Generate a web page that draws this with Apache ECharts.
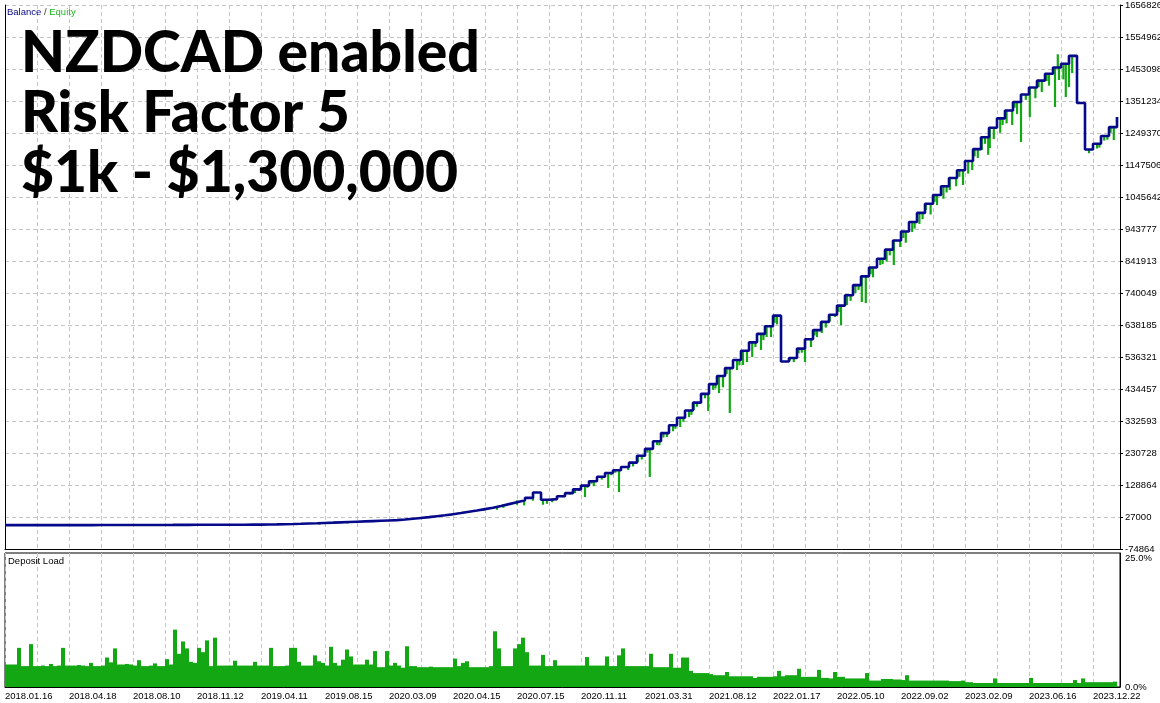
<!DOCTYPE html>
<html><head><meta charset="utf-8">
<script src="https://cdn.jsdelivr.net/npm/echarts@6/dist/echarts.min.js"></script>
<style>html,body{margin:0;padding:0;background:#fff}#c{width:1160px;height:703px}</style>
</head><body><div id="c"></div><script>
const xLabels = ['2018.01.16','2018.04.18','2018.08.10','2018.11.12','2019.04.11','2019.08.15','2020.03.09','2020.04.15','2020.07.15','2020.11.11','2021.03.31','2021.08.12','2022.01.17','2022.05.10','2022.09.02','2023.02.09','2023.06.16','2023.12.22'];
const yLabels = ['-74864','27000','128864','230728','332593','434457','536321','638185','740049','841913','943777','1045642','1147506','1249370','1351234','1453098','1554962','1656826'];
const loadLabels = ['0.0%','25.0%'];
const titleLines = ['NZDCAD enabled','Risk Factor 5','$1k - $1,300,000'];

// balance, one value per step of the trade index
const balance = [
1000,1000,1050,1050,1100,1100,1150,1150,1200,1250,
1250,1300,1350,1400,1450,1500,1550,1600,1700,1750,
1800,1900,2000,2100,2200,2250,2350,2400,2450,2500,
2600,2700,3000,3400,4000,4700,5500,6400,7200,8100,
9000,10000,11000,12000,13000,14000,15000,16000,17000,19000,
21500,24000,26500,29500,32500,36000,39500,43500,47500,52000,
56500,62000,68000,74000,80000,88000,105000,82000,84000,93000,
103000,115000,127000,141000,155000,167000,176000,186000,200000,222000,
244000,268000,294000,319000,343000,366000,391000,419000,450000,476000,
501000,527000,556000,583000,610000,634000,668000,522000,533000,563000,
593000,622000,648000,671000,700000,733000,765000,793000,821000,849000,
878000,907000,936000,966000,995000,1024000,1052000,1080000,1106000,1131000,
1160000,1198000,1236000,1266000,1296000,1321000,1348000,1372000,1394000,1416000,
1438000,1458000,1470000,1495000,1345000,1197000,1215000,1240000,1268000,1300000
];

// equity excursions away from balance: [trade index, equity value]
const equityDips = [
[39.3,2500],[42.8,6000],[44.4,9500],[46.3,11000],[48.0,13500],[49.2,16000],
[55.7,30000],[57.3,38000],[57.8,41000],[59.8,46000],[61.5,50000],[62.3,56000],
[64.0,66000],[64.9,64000],[66.0,79000],[67.25,66000],[67.75,69000],[68.4,74000],
[69.0,84000],[69.75,90000],[70.6,98000],[71.25,103000],[71.7,110000],
[72.5,90700],[72.8,120000],[73.3,133000],[73.6,125000],[74.6,146000],[75.4,119300],[75.8,160000],
[76.3,168000],[76.75,106600],[77.9,176600],[78.5,188000],[79.1,202000],[79.6,210000],
[80.3,232000],[80.6,154300],[81.5,256000],[81.8,255000],[82.3,280000],[82.75,281600],[83.5,300000],
[83.8,308000],[84.4,313500],[84.8,330000],[85.5,345000],[85.8,352000],
[86.1,367600],[86.5,378000],[86.9,389900],[87.5,405000],[87.9,364400],[88.5,432000],[88.8,436000],
[89.25,421700],[89.75,440000],[90.2,482000],[90.6,358000],
[91.5,495000],[91.8,510000],[92.25,510800],[92.75,520000],[93.4,536300],[93.8,568000],[94.5,558600],
[94.8,590000],[95.2,600000],[95.75,600000],[96.2,645000],[96.5,640000],[98.1,525000],[98.6,520000],
[99.2,548000],[99.6,550000],[100.0,520400],[100.75,568000],
[101.2,605000],[101.5,600000],[102.1,612700],[102.6,630000],[103.1,650000],[103.75,663600],[104.2,680000],
[104.5,638000],[105.25,701800],[105.7,715000],
[106.3,740000],[106.7,750000],[107.1,711400],[107.6,708000],[108.2,800000],[108.5,790000],[109.4,829000],
[109.7,832000],[110.2,840000],[110.6,860000],
[111.1,829000],[111.9,886400],[112.3,915000],[112.6,900000],[113.4,934000],[113.7,945000],[114.3,960000],
[114.7,975000],[115.1,1004000],
[115.7,990000],[116.2,1030000],[116.5,1020000],[117.3,1040000],[117.7,1060000],[118.1,1067800],
[118.9,1080000],[119.3,1110000],[119.75,1083800],
[120.4,1120000],[120.9,1131500],[121.2,1175000],[121.6,1170000],[122.1,1195000],[122.5,1215000],
[122.9,1180000],[123.1,1201600],
[123.6,1230000],[124.4,1250000],[124.7,1275000],[125.2,1280000],[125.9,1274700],[126.2,1330000],
[126.5,1310000],[127.0,1220600],[127.6,1355000],
[128.1,1300000],[128.8,1360000],[129.2,1395000],[129.6,1380000],[130.2,1415000],[130.5,1400000],
[131.25,1332000],[131.6,1500000],
[131.75,1418000],[132.3,1420000],[132.6,1364000],[133.0,1396000],[133.4,1440000],
[135.5,1185000],[136.5,1200000],[136.8,1203000],[137.4,1225000],[137.8,1228000],[138.2,1250000],
[138.6,1227000],[139.0,1285000]
];

// deposit load in %, two samples per trade-index step
const depositLoad = [
4.2,4.2,4.2,7.3,3.9,3.9,8.0,3.9,3.9,4.0,3.9,4.3,3.9,4.0,7.3,4.0,
4.0,4.0,4.1,4.0,3.9,4.5,3.9,3.9,4.0,5.5,4.6,7.2,4.2,4.2,4.3,4.2,
4.0,5.0,3.9,3.9,4.0,4.4,3.9,3.9,5.2,4.2,10.7,6.2,8.5,7.2,4.7,4.5,
7.3,6.5,8.7,3.9,9.2,4.0,4.0,4.0,4.0,4.9,4.0,4.0,4.0,4.0,4.7,4.0,
4.0,4.0,7.3,3.9,3.9,3.9,4.0,7.3,7.3,4.7,4.0,4.0,4.0,5.9,4.8,4.5,
4.0,7.5,4.5,4.0,5.1,7.0,5.7,4.2,4.2,4.2,5.1,4.2,6.7,3.7,3.7,6.7,
4.0,4.5,4.0,3.6,7.6,3.9,3.9,3.7,3.7,3.7,3.8,3.7,3.7,3.7,3.7,3.7,
5.3,3.9,4.5,4.8,3.7,3.7,3.7,3.7,3.7,3.9,10.4,7.2,3.9,3.9,3.9,7.2,
8.0,9.2,6.5,4.0,4.0,4.0,6.0,3.9,3.9,5.0,4.0,4.0,4.0,4.0,4.0,4.0,
4.0,5.6,4.0,4.0,4.0,4.0,5.7,3.9,3.9,5.9,7.2,3.9,3.9,3.9,3.9,3.9,
3.9,6.2,3.7,3.7,3.7,3.7,6.2,3.6,3.6,5.5,5.5,3.0,2.6,2.6,2.6,2.6,
2.4,2.2,2.2,2.2,2.8,2.0,2.0,2.0,2.0,2.0,2.0,1.7,1.9,1.9,1.9,1.9,
2.0,3.0,2.0,2.2,2.2,2.2,3.4,1.9,1.9,1.9,1.9,3.2,1.7,1.7,1.6,2.8,
1.9,1.9,1.6,1.6,1.6,1.6,1.6,2.6,1.2,1.2,1.2,1.5,1.5,1.5,1.4,1.4,
1.3,2.2,1.2,1.2,1.2,1.2,1.2,1.2,1.2,1.2,1.2,1.2,1.1,1.1,1.1,1.2,
0.9,0.9,0.75,0.75,0.75,0.75,0.75,1.6,0.75,0.75,0.75,0.75,0.75,0.75,0.75,0.75,
1.7,0.75,0.75,0.75,0.75,0.75,0.75,0.75,0.75,0.75,0.75,1.3,0.75,1.6,0.9,0.9,
0.9,0.9,0.9,0.9,0.9,1.0
];

const Y_MIN = -74864, Y_MAX = 1656826, Y_STEP = (Y_MAX - Y_MIN) / 17;
const X_MAX = 139.375;
const BLUE = '#06098a', GREEN = '#13a813', GRID = '#c4c4c4';
const FONT = 'Liberation Sans';

const chart = echarts.init(document.getElementById('c'), null, {renderer: 'canvas'});
const splitX = {show: true, lineStyle: {color: GRID, type: [4, 3], width: 1}};
chart.setOption({
  animation: false,
  backgroundColor: '#fff',
  textStyle: {fontFamily: FONT},
  title: [
    {text: titleLines.join('\n'), left: 16, top: 19,
     textStyle: {fontFamily: 'Lato', fontWeight: 900, fontSize: 57, lineHeight: 60, color: '#000'}},
    {text: '{b|Balance} / {e|Equity}', left: 7, top: 7, padding: 0,
     textStyle: {fontSize: 9.5, fontWeight: 'normal', color: '#333', fontFamily: FONT,
       rich: {b: {color: BLUE, fontSize: 9.5, fontFamily: FONT}, e: {color: '#22b522', fontSize: 9.5, fontFamily: FONT}}}},
    {text: 'Deposit Load', left: 8, top: 556, padding: 0,
     textStyle: {fontSize: 9.5, fontWeight: 'normal', color: '#000', fontFamily: FONT}}
  ],
  grid: [
    {left: 5, right: 40, top: 5, height: 544, show: false, outerBoundsMode: 'none', containLabel: false},
    {left: 5, right: 40, top: 553, height: 134, show: true, borderColor: '#000', borderWidth: 1,
     outerBoundsMode: 'none', containLabel: false}
  ],
  xAxis: [
    {gridIndex: 0, type: 'value', min: 0, max: X_MAX, interval: 4,
     axisLine: {show: true, onZero: false, lineStyle: {color: '#000', width: 1}}, axisTick: {show: false},
     axisLabel: {show: false}, splitLine: splitX},
    {gridIndex: 1, type: 'value', min: 0, max: X_MAX, interval: 4,
     axisLine: {show: true, onZero: false, lineStyle: {color: '#000', width: 1}}, axisTick: {show: false},
     axisLabel: {show: true, align: 'left', margin: 4, fontSize: 9.5, color: '#000', fontFamily: FONT,
       formatter: v => (Math.abs(v % 8) < 1e-6 ? (xLabels[Math.round(v / 8)] || '') : '')},
     splitLine: splitX}
  ],
  yAxis: [
    {gridIndex: 0, type: 'value', position: 'right', min: Y_MIN, max: Y_MAX, interval: Y_STEP,
     axisLine: {show: true, onZero: false, lineStyle: {color: '#000', width: 1}},
     axisTick: {show: true, length: 3, lineStyle: {color: '#000'}},
     axisLabel: {show: true, margin: 5, fontSize: 9.5, color: '#000', fontFamily: FONT,
       formatter: v => yLabels[Math.round((v - Y_MIN) / Y_STEP)] || ''},
     splitLine: {show: true, lineStyle: {color: GRID, type: [4, 3], width: 1}}},
    {gridIndex: 0, type: 'value', position: 'left', min: 0, max: 1,
     axisLine: {show: true, onZero: false, lineStyle: {color: '#000', width: 1}},
     axisTick: {show: false}, axisLabel: {show: false}, splitLine: {show: false}},
    {gridIndex: 1, type: 'value', position: 'right', min: 0, max: 25, interval: 25,
     axisLine: {show: true, onZero: false, lineStyle: {color: '#000', width: 1}}, axisTick: {show: false},
     axisLabel: {show: true, margin: 5, fontSize: 9.5, color: '#000', fontFamily: FONT,
       formatter: v => (v >= 25 ? '\n' + loadLabels[1] : loadLabels[0])},
     splitLine: {show: false}}
  ],
  series: [
    {type: 'custom', name: 'Equity', xAxisIndex: 0, yAxisIndex: 0, z: 2,
     data: equityDips,
     renderItem: (params, api) => {
       const ix = api.value(0), low = api.value(1);
       const top = balance[Math.floor(ix)];
       const p1 = api.coord([ix, top]);
       const p2 = api.coord([ix, low]);
       return {type: 'line', shape: {x1: p1[0], y1: p1[1], x2: p2[0], y2: p2[1]},
               style: {stroke: GREEN, lineWidth: 2.2}};
     }},
    {type: 'line', name: 'Balance', xAxisIndex: 0, yAxisIndex: 0, z: 3,
     step: 'end', showSymbol: false, symbol: 'none',
     data: balance.map((v, i) => [i, v]),
     lineStyle: {color: BLUE, width: 2.6}},
    {type: 'bar', name: 'Deposit Load', xAxisIndex: 1, yAxisIndex: 2,
     data: depositLoad.map((v, i) => [(i + 0.5) * 0.5, v]),
     barWidth: 4, itemStyle: {color: GREEN}}
  ]
});
</script></body></html>
